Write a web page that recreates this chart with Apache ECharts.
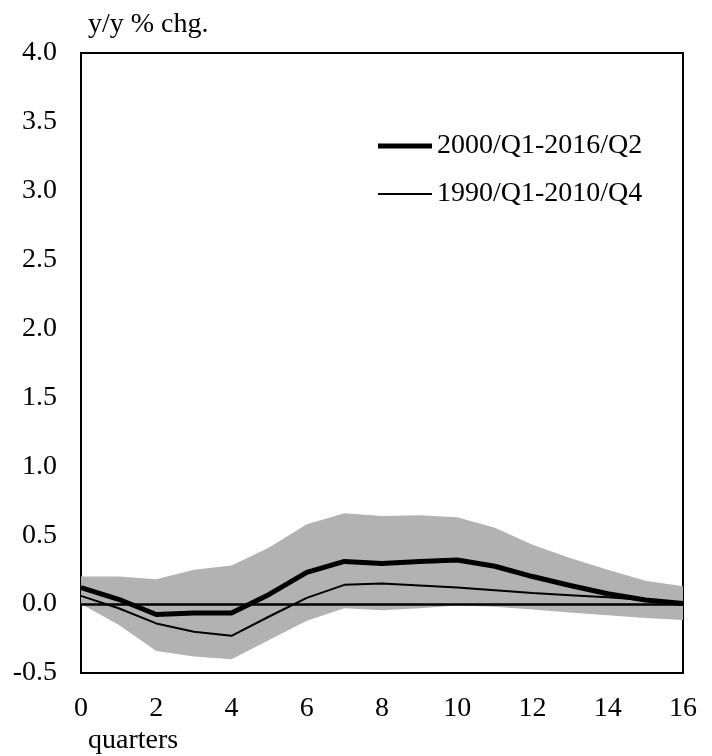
<!DOCTYPE html>
<html>
<head>
<meta charset="utf-8">
<script src="https://cdn.jsdelivr.net/npm/echarts@6/dist/echarts.min.js"></script>
<style>
  html, body { margin: 0; padding: 0; background: #fff; }
  #chart { width: 712px; height: 756px; }
</style>
</head>
<body>
<div id="chart"></div>
<script>
// quarters after the shock
const quarters = ['0', '1', '2', '3', '4', '5', '6', '7', '8', '9', '10', '11', '12', '13', '14', '15', '16']
// 2000/Q1-2016/Q2 estimate (thick line)
const recent = [0.12, 0.035, -0.075, -0.065, -0.065, 0.07, 0.23, 0.31, 0.295, 0.31, 0.32, 0.275, 0.2, 0.135, 0.075, 0.03, 0.005]
// 1990/Q1-2010/Q4 estimate (thin line)
const older = [0.06, -0.03, -0.14, -0.2, -0.23, -0.09, 0.045, 0.14, 0.15, 0.135, 0.12, 0.1, 0.08, 0.065, 0.05, 0.03, 0.005]
// confidence band
const bandUpper = [0.2, 0.2, 0.18, 0.25, 0.28, 0.41, 0.58, 0.66, 0.64, 0.645, 0.63, 0.555, 0.43, 0.335, 0.25, 0.17, 0.13]
const bandLower = [0.0, -0.15, -0.34, -0.38, -0.4, -0.26, -0.12, -0.03, -0.045, -0.03, -0.01, -0.02, -0.04, -0.06, -0.08, -0.1, -0.115]

const serif = '"Liberation Serif", "DejaVu Serif", serif'
const fontSize = 28

const chart = echarts.init(document.getElementById('chart'))

chart.setOption({
  animation: false,
  grid: {
    left: 81,
    right: 29,
    top: 53,
    bottom: 83,
    show: true,
    borderColor: '#000',
    borderWidth: 2
  },
  legend: {
    orient: 'vertical',
    left: 373,
    top: 127,
    itemWidth: 54,
    itemHeight: 14,
    itemGap: 20,
    textStyle: { fontFamily: serif, fontSize: fontSize, color: '#000' },
    data: [
      { name: '2000/Q1-2016/Q2', icon: 'path://M0,0L54,0L54,5L0,5Z', itemStyle: { color: '#000' } },
      { name: '1990/Q1-2010/Q4', icon: 'path://M0,0L54,0L54,2L0,2Z', itemStyle: { color: '#000' } }
    ]
  },
  xAxis: {
    type: 'category',
    data: quarters,
    boundaryGap: false,
    splitLine: { show: false },
    axisLine: { lineStyle: { color: '#000', width: 2 } },
    axisTick: { inside: true, length: 8, interval: 0, lineStyle: { color: '#000', width: 2 } },
    axisLabel: {
      margin: 22,
      interval: 1,
      fontFamily: serif,
      fontSize: fontSize,
      color: '#000'
    }
  },
  yAxis: {
    type: 'value',
    min: -0.5,
    max: 4.0,
    interval: 0.5,
    splitLine: { show: false },
    axisLine: { onZero: false, lineStyle: { color: '#000', width: 2 } },
    axisTick: { length: 8, lineStyle: { color: '#000', width: 2 } },
    axisLabel: {
      margin: 24,
      fontFamily: serif,
      fontSize: fontSize,
      color: '#000',
      formatter: v => v.toFixed(1)
    }
  },
  graphic: [
    {
      type: 'text',
      left: 88,
      top: 11,
      style: { text: 'y/y % chg.', font: fontSize + 'px ' + serif, fill: '#000' }
    },
    {
      type: 'text',
      left: 88,
      top: 727,
      style: { text: 'quarters', font: fontSize + 'px ' + serif, fill: '#000' }
    }
  ],
  series: [
    {
      name: 'bandBase',
      type: 'line',
      stack: 'band',
      stackStrategy: 'all',
      symbol: 'none',
      lineStyle: { opacity: 0 },
      data: bandLower,
      z: 1
    },
    {
      name: 'band',
      type: 'line',
      stack: 'band',
      stackStrategy: 'all',
      symbol: 'none',
      lineStyle: { opacity: 0 },
      areaStyle: { color: '#b2b2b2', opacity: 1 },
      data: bandUpper.map((u, i) => u - bandLower[i]),
      z: 1
    },
    {
      name: '1990/Q1-2010/Q4',
      type: 'line',
      symbol: 'none',
      lineStyle: { color: '#000', width: 2 },
      itemStyle: { color: '#000' },
      data: older,
      markLine: {
        silent: true,
        symbol: 'none',
        label: { show: false },
        lineStyle: { color: '#000', width: 2.5, type: 'solid' },
        data: [{ yAxis: 0 }]
      },
      z: 3
    },
    {
      name: '2000/Q1-2016/Q2',
      type: 'line',
      symbol: 'none',
      lineStyle: { color: '#000', width: 5 },
      itemStyle: { color: '#000' },
      data: recent,
      z: 4
    }
  ]
})
</script>
</body>
</html>
